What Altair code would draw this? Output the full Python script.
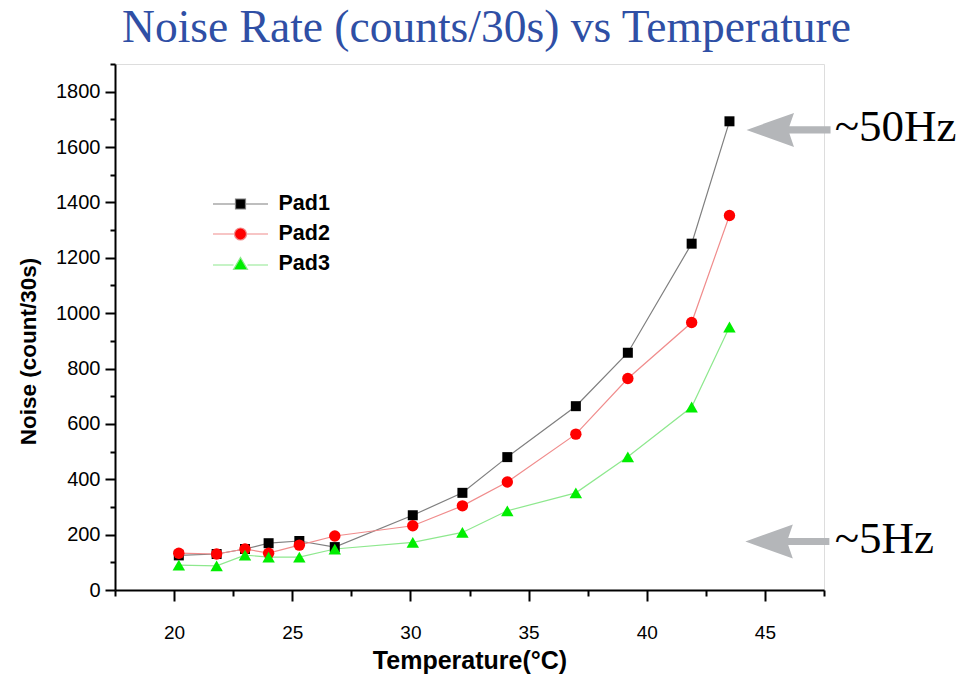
import altair as alt
import pandas as pd

# ---- data ----
temperature = [20.2, 21.8, 23.0, 24.0, 25.3, 26.8, 30.1, 32.2, 34.1, 37.0, 39.2, 41.9, 43.5]
pad1 = [125, 130, 148, 169, 177, 155, 270, 351, 480, 664, 857, 1251, 1693]
pad2 = [133, 130, 148, 133, 162, 195, 232, 304, 390, 563, 764, 966, 1353]
pad3 = [90, 87, 126, 119, 119, 148, 172, 208, 286, 351, 481, 661, 950]
series_names = ["Pad1", "Pad2", "Pad3"]

x_major = [20, 25, 30, 35, 40, 45]
x_minor = [17.5, 22.5, 27.5, 32.5, 37.5, 42.5, 47.5]
y_major = [0, 200, 400, 600, 800, 1000, 1200, 1400, 1600, 1800]
y_minor = [100, 300, 500, 700, 900, 1100, 1300, 1500, 1700, 1900]

note_labels = ["~50Hz", "~5Hz"]
note_arrow_x = [46.0, 45.95]
note_arrow_y = [1662, 175]
note_text_x = [47.95, 47.95]
note_text_y = [1622, 135]

# ---- styles ----
point_colors = ["#000000", "#ff0000", "#00ee00"]
line_colors = ["#7f7f7f", "#f08c8c", "#8ee88e"]
point_shapes = ["square", "circle", "triangle-up"]
point_sizes = [100, 130, 155]
# legend glyphs (line + marker), drawn in units of 10 px (symbol size 400)
legend_shapes = [
    "M-2.75,0 L-0.5,0 M0.5,0 L2.75,0 M-0.5,-0.5 L0.5,-0.5 L0.5,0.5 L-0.5,0.5 Z",
    "M-2.75,0 L-0.6,0 M0.6,0 L2.75,0 M0.6,0 A0.6,0.6 0 1,1 -0.6,0 A0.6,0.6 0 1,1 0.6,0 Z",
    "M-2.75,0.1 L-0.7,0.1 M0.7,0.1 L2.75,0.1 M0,-0.65 L0.7,0.55 L-0.7,0.55 Z",
]
arrow_path = "M-1,0 L0.13,-0.405 L0.02,-0.085 L1,-0.085 L1,0.085 L0.02,0.085 L0.13,0.405 Z"

rows = []
for name, vals in zip(series_names, [pad1, pad2, pad3]):
    for i, (t, v) in enumerate(zip(temperature, vals)):
        rows.append({"series": name, "T": t, "value": v, "order": i})
df = pd.DataFrame(rows)

notes = pd.DataFrame({
    "label": note_labels,
    "ax": note_arrow_x,
    "ay": note_arrow_y,
    "tx": note_text_x,
    "ty": note_text_y,
})

xscale = alt.Scale(domain=[17.5, 47.5], nice=False, zero=False)
yscale = alt.Scale(domain=[0, 1900], nice=False)

tick_font = "Liberation Sans"

main_x_axis = alt.Axis(
    values=x_major, title="Temperature(°C)", grid=False, tickSize=11, tickWidth=2,
    domainWidth=2, domainColor="black", tickColor="black", format="d",
    labelFont=tick_font, labelFontSize=19, labelColor="black", labelPadding=22,
    titleFont=tick_font, titleFontSize=25, titleFontWeight="bold", titleColor="black",
    titlePadding=6, orient="bottom",
)
main_y_axis = alt.Axis(
    values=y_major, title="Noise (count/30s)", grid=False, tickSize=10, tickWidth=2,
    domainWidth=2, domainColor="black", tickColor="black", format="d",
    labelFont=tick_font, labelFontSize=20, labelColor="black", labelPadding=5,
    titleFont=tick_font, titleFontSize=22.5, titleFontWeight="bold", titleColor="black",
    titlePadding=15, titleY=287, orient="left",
)
minor_x_axis = alt.Axis(values=x_minor, title=None, labels=False, grid=False, domain=False,
                        tickSize=6, tickWidth=2, tickColor="black", orient="bottom")
minor_y_axis = alt.Axis(values=y_minor, title=None, labels=False, grid=False, domain=False,
                        tickSize=5, tickWidth=2, tickColor="black", orient="left")

layers = []
for k, name in enumerate(series_names):
    sub = alt.Chart(df).transform_filter(alt.datum.series == name)
    if k == 0:
        xe = alt.X("T:Q", scale=xscale, axis=main_x_axis)
        ye = alt.Y("value:Q", scale=yscale, axis=main_y_axis)
    else:
        xe = alt.X("T:Q", scale=xscale, axis=None)
        ye = alt.Y("value:Q", scale=yscale, axis=None)
    line = sub.mark_line(color=line_colors[k], strokeWidth=1.2).encode(x=xe, y=ye, order="order:Q")
    layers.append(line)
for k, name in enumerate(series_names):
    sub = alt.Chart(df).transform_filter(alt.datum.series == name)
    pts = sub.mark_point(filled=True, opacity=1, shape=point_shapes[k], size=point_sizes[k],
                         color=point_colors[k]).encode(
        x=alt.X("T:Q", scale=xscale, axis=None),
        y=alt.Y("value:Q", scale=yscale, axis=None),
    )
    layers.append(pts)

legend_params = dict(
    title=None, orient="none", legendX=114.5, legendY=129, padding=0,
    symbolSize=400, symbolStrokeWidth=1.2, labelFont=tick_font, labelFontSize=21.5,
    labelFontWeight="bold", labelColor="black", labelOffset=27, rowPadding=8,
)
legend_layer = alt.Chart(df).transform_filter("false").mark_point(filled=True, opacity=1).encode(
    x=alt.X("T:Q", scale=xscale, axis=minor_x_axis),
    y=alt.Y("value:Q", scale=yscale, axis=minor_y_axis),
    fill=alt.Fill("series:N", scale=alt.Scale(domain=series_names, range=point_colors),
                  legend=alt.Legend(**legend_params)),
    stroke=alt.Stroke("series:N", scale=alt.Scale(domain=series_names, range=line_colors),
                      legend=alt.Legend(**legend_params)),
    shape=alt.Shape("series:N", scale=alt.Scale(domain=series_names, range=legend_shapes),
                    legend=alt.Legend(**legend_params)),
)
layers.append(legend_layer)

arrows = alt.Chart(notes).mark_point(filled=True, opacity=1, shape=arrow_path, size=7056,
                                     color="#b4b6b9").encode(
    x=alt.X("ax:Q", scale=xscale, axis=None),
    y=alt.Y("ay:Q", scale=yscale, axis=None),
)
texts = alt.Chart(notes).mark_text(align="left", baseline="alphabetic", font="Liberation Serif",
                                   fontSize=45, color="black").encode(
    x=alt.X("tx:Q", scale=xscale, axis=None),
    y=alt.Y("ty:Q", scale=yscale, axis=None),
    text="label:N",
)
layers += [arrows, texts]

chart = alt.layer(*layers).resolve_axis(x="independent", y="independent").properties(
    width=709,
    height=526,
    autosize=alt.AutoSizeParams(type="none"),
    padding={"left": 115, "top": 64, "right": 154, "bottom": 84},
    title=alt.TitleParams(
        text="Noise Rate (counts/30s) vs Temperature", font="Liberation Serif", fontSize=45.5,
        fontWeight="normal", color="#2f4fa5", anchor="middle", dx=17, baseline="alphabetic",
        offset=27, dy=51,
    ),
).configure_view(stroke="black", strokeWidth=2).configure(background="white")

chart.save("out.html", embed_options={"renderer": "svg", "actions": False})
